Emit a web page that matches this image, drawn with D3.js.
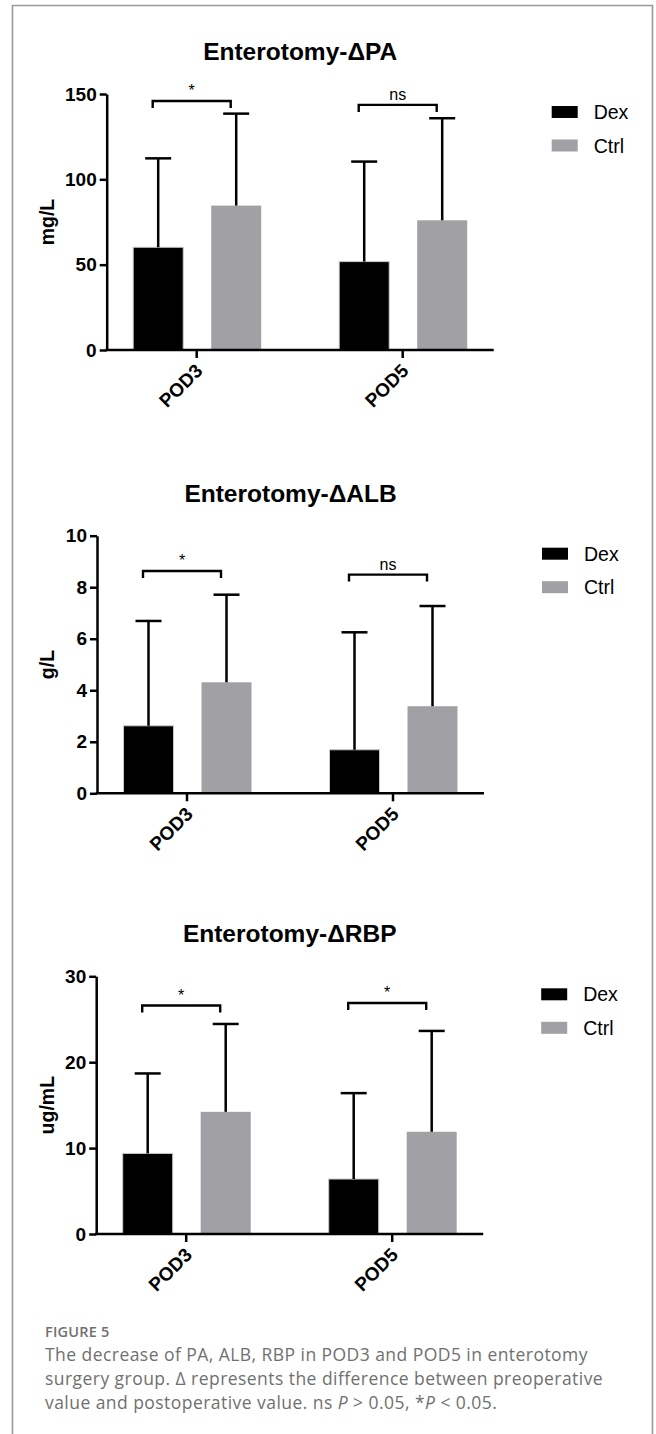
<!DOCTYPE html>
<html><head><meta charset="utf-8">
<script src="https://cdn.jsdelivr.net/npm/d3@7"></script>
<style>body{margin:0;background:#fff}svg{display:block}</style>
</head><body>
<script>
// ---------- data ----------
const categories = ["POD3", "POD5"];
const groups = ["Dex", "Ctrl"];
const titles = ["Enterotomy-ΔPA", "Enterotomy-ΔALB", "Enterotomy-ΔRBP"];
const yLabels = ["mg/L", "g/L", "ug/mL"];
const yMax = [150, 10, 30];
const yTicks = [[0, 50, 100, 150], [0, 2, 4, 6, 8, 10], [0, 10, 20, 30]];

const paDex = [60.2, 51.8],  paDexSD = [52.1, 58.6];
const paCtrl = [84.6, 76.0], paCtrlSD = [53.9, 59.8];
const albDex = [2.62, 1.69], albDexSD = [4.07, 4.56];
const albCtrl = [4.31, 3.38], albCtrlSD = [3.40, 3.89];
const rbpDex = [9.38, 6.40], rbpDexSD = [9.31, 10.0];
const rbpCtrl = [14.22, 11.9], rbpCtrlSD = [10.23, 11.74];

const sigLabels = [["*", "ns"], ["*", "ns"], ["*", "*"]];
const sigHeights = [[145.9, 143.6], [8.63, 8.49], [26.6, 26.9]];

const captionHead = "FIGURE 5";

// ---------- build ----------
const series = [
  { Dex: paDex, DexSD: paDexSD, Ctrl: paCtrl, CtrlSD: paCtrlSD },
  { Dex: albDex, DexSD: albDexSD, Ctrl: albCtrl, CtrlSD: albCtrlSD },
  { Dex: rbpDex, DexSD: rbpDexSD, Ctrl: rbpCtrl, CtrlSD: rbpCtrlSD }
];
const colors = { Dex: "#000000", Ctrl: "#a1a1a5" };
const panels = [
  { left: 106.7, top: 94, bottom: 350 },
  { left: 97, top: 535.7, bottom: 793.3 },
  { left: 96.2, top: 976.3, bottom: 1234 }
];
const FONT = "'Liberation Sans', Arial, Helvetica, sans-serif";

const svg = d3.select("body").append("svg")
  .attr("width", 656).attr("height", 1434)
  .attr("font-family", FONT);

// frame
svg.append("path")
  .attr("d", "M12.5,1434 V5.5 H652.5 V1434")
  .attr("fill", "none").attr("stroke", "#9a9a9a").attr("stroke-width", 1.6);

panels.forEach((p, i) => {
  const g = svg.append("g");
  const axisW = 387;
  const x = d3.scaleBand().domain(categories).range([p.left - 13, p.left + 399]).padding(0);
  const xi = d3.scaleBand().domain(groups).range([-63.5, 64.5]).paddingInner(0.359);
  const y = d3.scaleLinear().domain([0, yMax[i]]).range([p.bottom, p.top]);
  const cx = c => x(c) + x.bandwidth() / 2;

  // title
  g.append("text").attr("x", p.left + axisW / 2).attr("y", p.top - 34)
    .attr("text-anchor", "middle").attr("font-weight", "bold").attr("font-size", 24.5)
    .text(titles[i]);

  // y label
  g.append("text")
    .attr("transform", `translate(54,${(p.top + p.bottom) / 2}) rotate(-90)`)
    .attr("text-anchor", "middle").attr("font-weight", "bold").attr("font-size", 19.5)
    .text(yLabels[i]);

  // bars
  const d = series[i];
  const rows = [];
  categories.forEach((c, ci) => groups.forEach(gr => rows.push({ c, gr, v: d[gr][ci], sd: d[gr + "SD"][ci] })));

  g.selectAll("rect.bar").data(rows).join("rect").attr("class", "bar")
    .attr("x", r => cx(r.c) + xi(r.gr))
    .attr("width", xi.bandwidth())
    .attr("y", r => y(r.v))
    .attr("height", r => y(0) - y(r.v))
    .attr("fill", r => colors[r.gr])
    .attr("stroke", r => r.gr === "Dex" ? "#c8c8c8" : "none").attr("stroke-width", 1);

  // error bars
  const eb = g.selectAll("g.eb").data(rows).join("g").attr("class", "eb")
    .attr("transform", r => `translate(${cx(r.c) + xi(r.gr) + xi.bandwidth() / 2},0)`);
  eb.append("line").attr("x1", 0).attr("x2", 0)
    .attr("y1", r => y(r.v)).attr("y2", r => y(r.v + r.sd))
    .attr("stroke", "#000").attr("stroke-width", 2.5);
  eb.append("line").attr("x1", -13).attr("x2", 13)
    .attr("y1", r => y(r.v + r.sd)).attr("y2", r => y(r.v + r.sd))
    .attr("stroke", "#000").attr("stroke-width", 2.5);

  // significance brackets
  categories.forEach((c, ci) => {
    const by = y(sigHeights[i][ci]);
    const mid = cx(c) - 5;
    g.append("path")
      .attr("d", `M${mid - 39},${by + 7} V${by} H${mid + 39} V${by + 7}`)
      .attr("fill", "none").attr("stroke", "#000").attr("stroke-width", 2.4);
    g.append("text").attr("x", mid).attr("y", by - 5)
      .attr("text-anchor", "middle").attr("font-size", 16)
      .text(sigLabels[i][ci]);
  });

  // y axis
  const ya = g.append("g").attr("transform", `translate(${p.left},0)`)
    .call(d3.axisLeft(y).tickValues(yTicks[i]).tickSize(7).tickSizeOuter(0).tickPadding(3));
  ya.select(".domain").attr("stroke-width", 2.5);
  ya.selectAll(".tick line").attr("stroke-width", 2.5);
  ya.selectAll(".tick text").attr("font-family", FONT).attr("font-weight", "bold")
    .attr("font-size", 19).attr("fill", "#000");

  // x axis
  g.append("line").attr("x1", p.left - 1.25).attr("x2", p.left + axisW)
    .attr("y1", y(0)).attr("y2", y(0)).attr("stroke", "#000").attr("stroke-width", 2.5);
  const xa = g.append("g").attr("transform", `translate(0,${y(0)})`)
    .call(d3.axisBottom(x).tickSize(8).tickSizeOuter(0));
  xa.select(".domain").remove();
  xa.selectAll(".tick line").attr("stroke-width", 2.5);
  xa.selectAll(".tick text")
    .attr("x", null).attr("y", null).attr("dy", null)
    .attr("transform", "translate(7,22) rotate(-45)")
    .attr("text-anchor", "end")
    .attr("font-family", FONT).attr("font-weight", "bold").attr("font-size", 19).attr("fill", "#000");

  // legend
  const lx = p.left + axisW + 58;
  groups.forEach((gr, gi) => {
    const ry = p.top + 12 + gi * 33.5;
    g.append("rect").attr("x", lx).attr("y", ry).attr("width", 26).attr("height", 12)
      .attr("fill", colors[gr]);
    g.append("text").attr("x", lx + 42).attr("y", ry + 6 + 7)
      .attr("font-size", 19.5).text(gr);
  });
});

// caption
const cap = svg.append("g").attr("font-family", "'Open Sans', 'Noto Sans', sans-serif").attr("fill", "#707070");
cap.append("text").attr("x", 45).attr("y", 1337).attr("font-size", 14.5).attr("font-weight", 600)
  .attr("letter-spacing", 0.2).text(captionHead);
const lines = [
  [["The decrease of PA, ALB, RBP in POD3 and POD5 in enterotomy", false]],
  [["surgery group. Δ represents the difference between preoperative", false]],
  [["value and postoperative value. ns ", false], ["P", true], [" > 0.05, *", false], ["P", true], [" < 0.05.", false]]
];
lines.forEach((ln, li) => {
  const t = cap.append("text").attr("x", 45).attr("y", 1361 + li * 24)
    .attr("font-size", 17.5).attr("letter-spacing", 0.45);
  ln.forEach(([s, it]) => t.append("tspan").attr("font-style", it ? "italic" : "normal").text(s));
});
</script>
</body></html>
